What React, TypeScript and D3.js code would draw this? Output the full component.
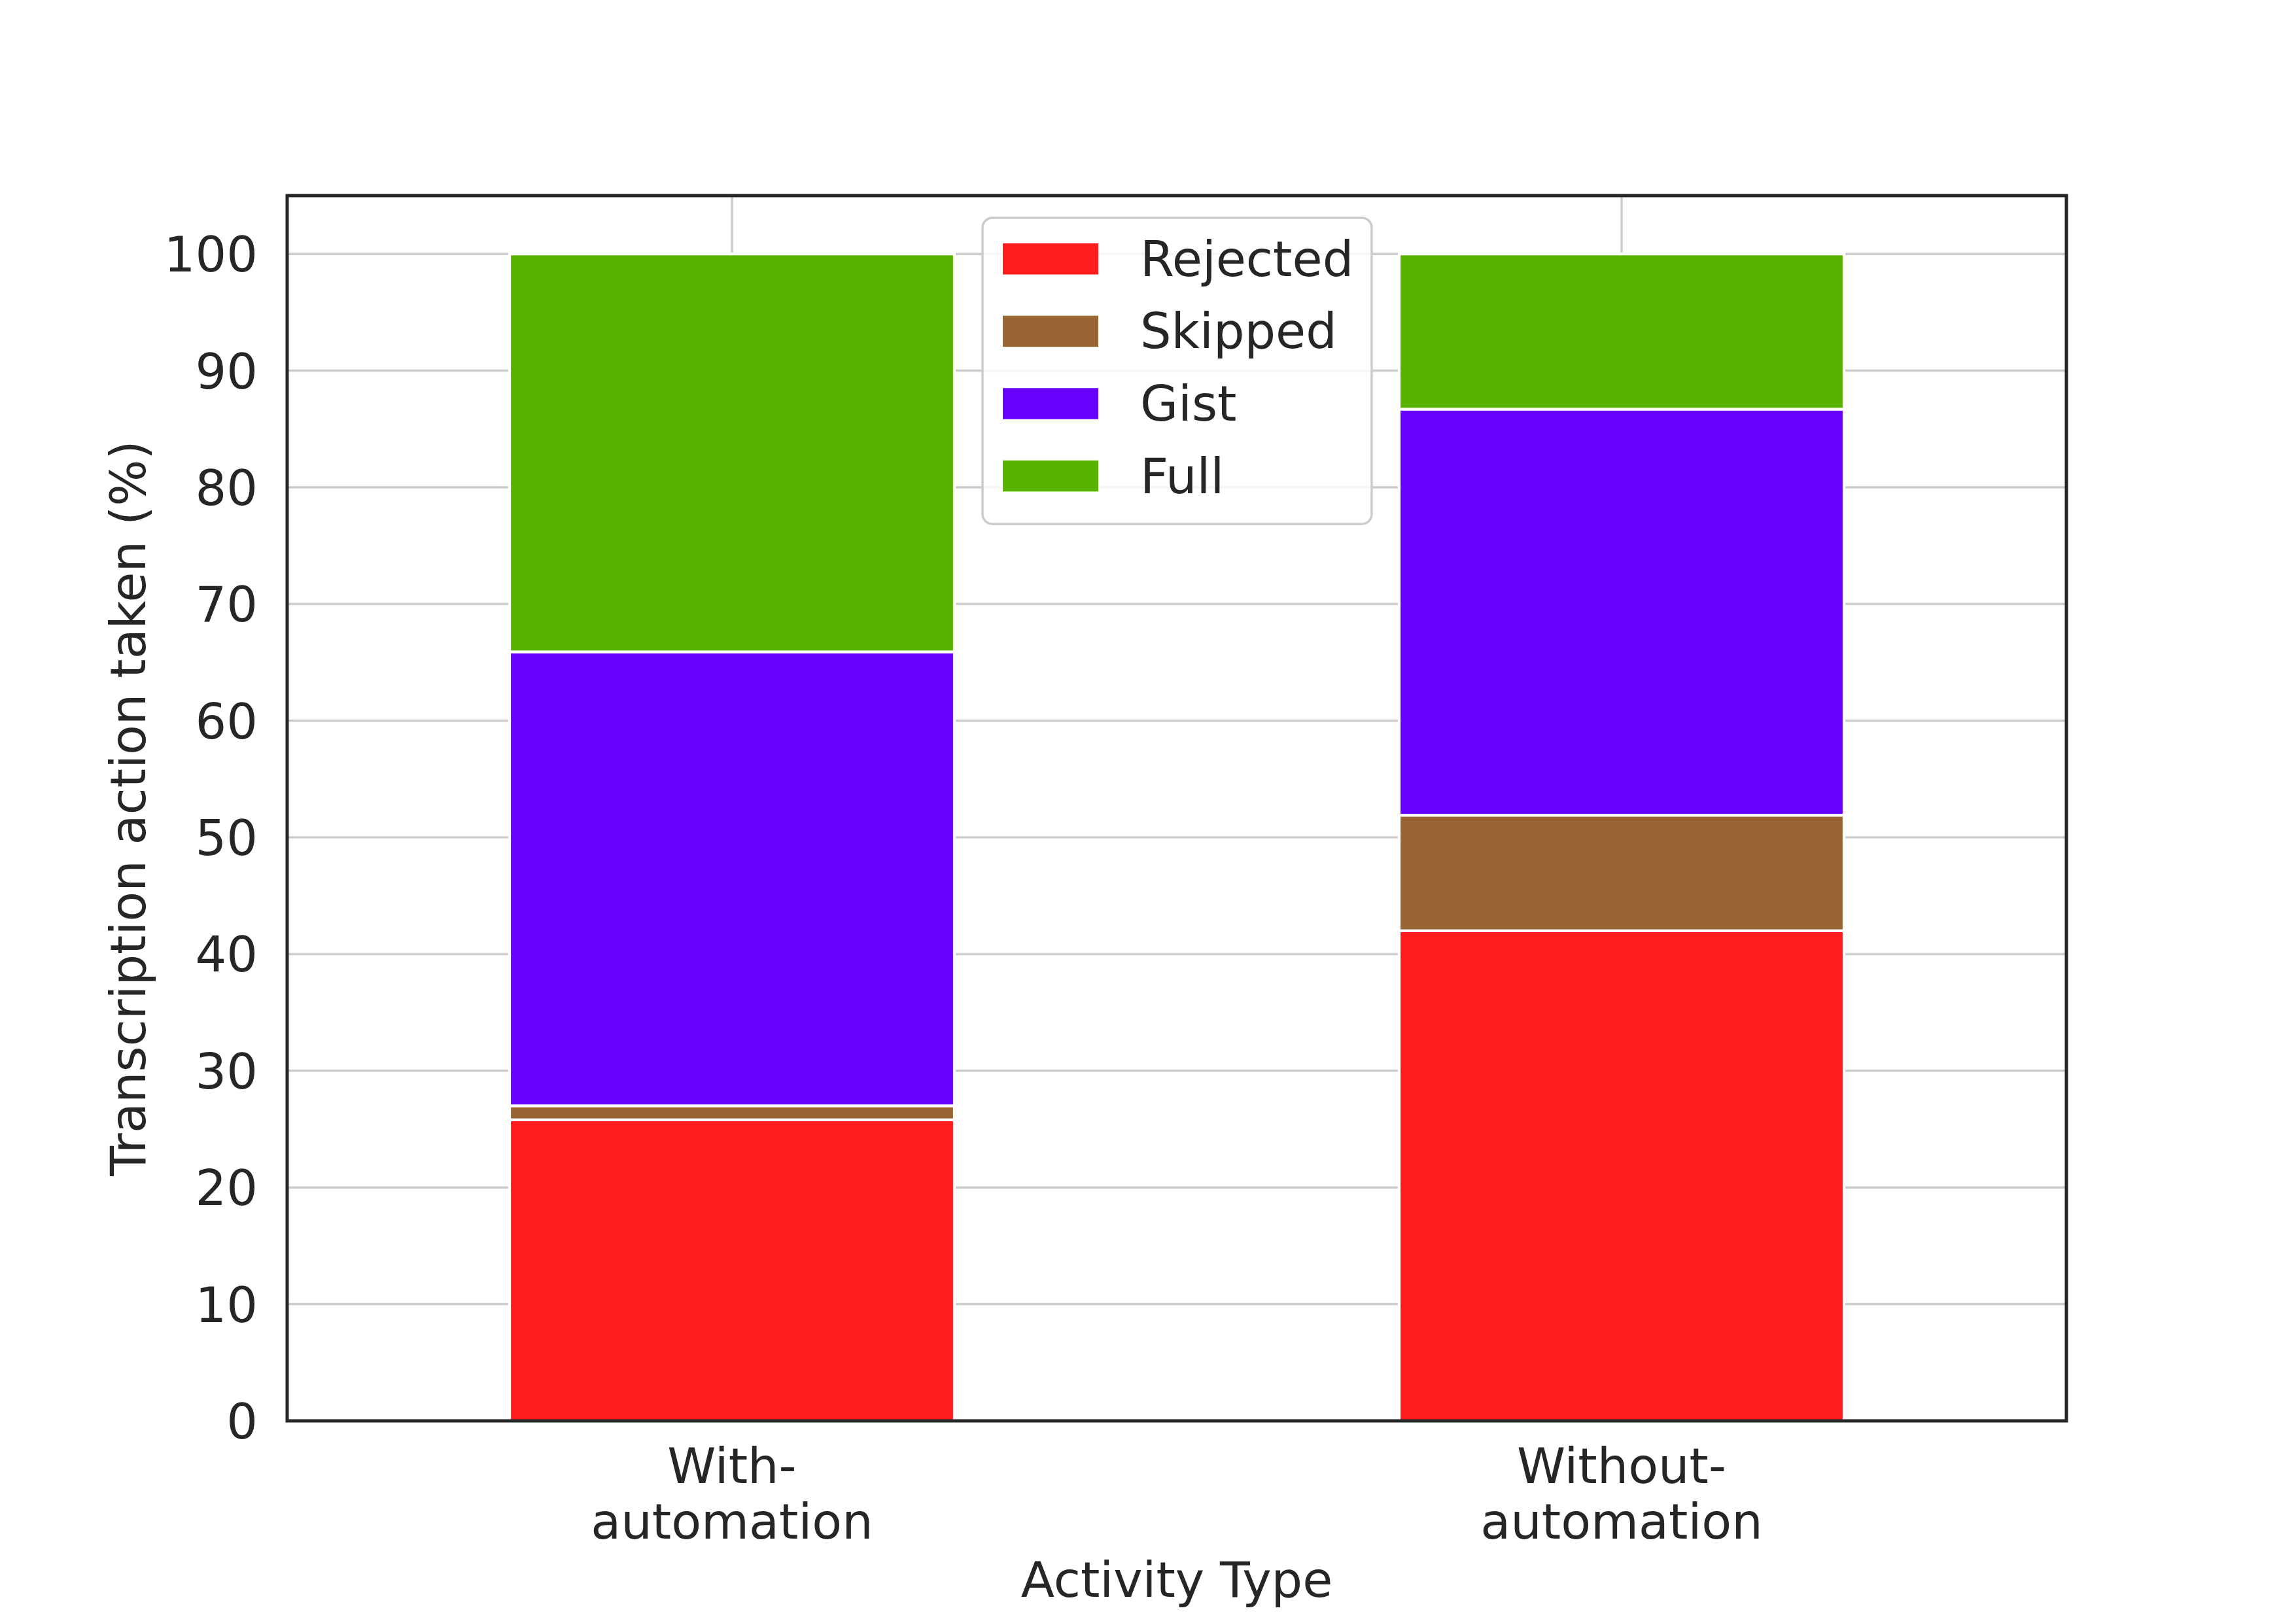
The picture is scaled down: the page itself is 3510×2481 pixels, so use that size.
import React from 'react'
import * as d3 from 'd3'

// data
const categories = ['With-automation', 'Without-automation']
const categoryLines = [['With-', 'automation'], ['Without-', 'automation']]
const seriesNames = ['Rejected', 'Skipped', 'Gist', 'Full']
const rejected = [25.8, 42.0]
const skipped = [1.2, 9.9]
const gist = [38.9, 34.8]
const full = [34.1, 13.3]
const yTicks = [0, 10, 20, 30, 40, 50, 60, 70, 80, 90, 100]
const seriesColors = ['#ff1c1c', '#996633', '#6600ff', '#5ab200']

const W = 3510
const H = 2481
const FONT = '"DejaVu Sans", sans-serif'
const TEXT = '#262626'

const App: React.FC = () => {
  const left = 439
  const right = 3159
  const top = 299
  const bottom = 2172

  const x = d3.scaleBand<string>()
    .domain(categories)
    .range([left, right])
    .paddingInner(0.5)
    .paddingOuter(0.25)

  const y = d3.scaleLinear().domain([0, 105]).range([bottom, top])

  const rows = categories.map((c, i) => ({
    cat: c,
    Rejected: rejected[i],
    Skipped: skipped[i],
    Gist: gist[i],
    Full: full[i],
  }))
  const stacked = d3.stack<any>().keys(seriesNames)(rows)

  // legend box
  const lg = { x: 1502, y: 333, w: 595, h: 468 }
  const rowGap = 110.6
  const firstRow = 395.8

  return (
    <svg width={W} height={H} style={{ position: 'absolute', left: 0, top: 0, background: '#fff' }}
      fontFamily={FONT}>
      <rect x={0} y={0} width={W} height={H} fill="#fff" />

      {/* grid */}
      <g stroke="#cccccc" strokeWidth={3.5}>
        {yTicks.map(t => (
          <line key={t} x1={left} x2={right} y1={y(t)} y2={y(t)} />
        ))}
        {categories.map(c => (
          <line key={c} x1={x(c)! + x.bandwidth() / 2} x2={x(c)! + x.bandwidth() / 2} y1={top} y2={bottom} />
        ))}
      </g>

      {/* stacked bars */}
      {stacked.map((layer, si) => (
        <g key={layer.key} fill={seriesColors[si]} stroke="#fff" strokeWidth={4.2}>
          {layer.map((d, i) => (
            <rect key={i}
              x={x(categories[i])}
              width={x.bandwidth()}
              y={y(d[1])}
              height={y(d[0]) - y(d[1])} />
          ))}
        </g>
      ))}

      {/* frame */}
      <rect x={left} y={top} width={right - left} height={bottom - top}
        fill="none" stroke={TEXT} strokeWidth={5} />

      {/* y tick labels */}
      <g fontSize={75} fill={TEXT} textAnchor="end">
        {yTicks.map(t => (
          <text key={t} x={394} y={y(t) + 27}>{t}</text>
        ))}
      </g>

      {/* x tick labels */}
      <g fontSize={75} fill={TEXT} textAnchor="middle">
        {categories.map((c, i) => (
          <text key={c} x={x(c)! + x.bandwidth() / 2} y={2267}>
            {categoryLines[i].map((ln, j) => (
              <tspan key={j} x={x(c)! + x.bandwidth() / 2} y={2267 + j * 84.5}>{ln}</tspan>
            ))}
          </text>
        ))}
      </g>

      {/* axis titles */}
      <text x={(left + right) / 2} y={2441} fontSize={75} fill={TEXT} textAnchor="middle">Activity Type</text>
      <text transform={`translate(222,${(top + bottom) / 2}) rotate(-90)`} fontSize={75} fill={TEXT}
        textAnchor="middle">Transcription action taken (%)</text>

      {/* legend */}
      <rect x={lg.x} y={lg.y} width={lg.w} height={lg.h} rx={15}
        fill="#fff" fillOpacity={0.8} stroke="#cccccc" strokeWidth={3.5} />
      {seriesNames.map((s, i) => (
        <g key={s}>
          <rect x={1533} y={firstRow + i * rowGap - 23.75} width={146} height={47.5} fill={seriesColors[i]} />
          <text x={1743} y={firstRow + i * rowGap + 26} fontSize={75} fill={TEXT}>{s}</text>
        </g>
      ))}
    </svg>
  )
}

export default App
